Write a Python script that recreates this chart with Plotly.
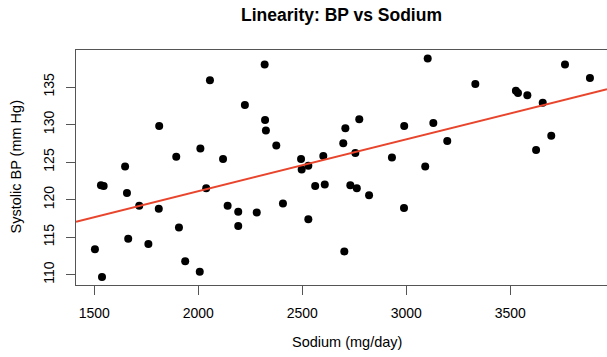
import plotly.graph_objects as go

sodium = [1532, 1545, 1648, 1812, 2056, 2224, 2010, 1894, 2119, 1657, 2038, 1716, 1810,
          2141, 2192, 2281, 1907, 2192, 1663, 1760, 1503, 1937, 2007, 1537,
          2319, 2321, 2325, 2375, 2494, 2497, 2529, 2601, 2562, 2608, 2407, 2529, 2702,
          2707, 2697, 2774, 2755, 2731, 2762, 2821, 2931, 2990, 2989, 3091, 3103, 3130, 3197,
          3332, 3527, 3537, 3582, 3656, 3624, 3697, 3763, 3883]
systolic = [121.9, 121.8, 124.4, 129.8, 135.9, 132.6, 126.8, 125.7, 125.4, 120.9, 121.5, 119.2, 118.8,
            119.2, 118.4, 118.3, 116.3, 116.5, 114.8, 114.1, 113.4, 111.8, 110.4, 109.7,
            138.0, 130.6, 129.2, 127.2, 125.4, 124.0, 124.5, 125.8, 121.8, 122.0, 119.5, 117.4, 113.1,
            129.5, 127.5, 130.7, 126.2, 121.9, 121.5, 120.6, 125.6, 129.8, 118.9, 124.4, 138.8, 130.2, 127.8,
            135.4, 134.5, 134.2, 133.9, 132.9, 126.6, 128.5, 138.0, 136.2]

fit_intercept = 107.31
fit_slope = 0.006906

x_ticks = [1500, 2000, 2500, 3000, 3500]
y_ticks = [110, 115, 120, 125, 130, 135]

x_range = [1412, 3965]
y_range = [108.63, 139.93]

font_family = "Liberation Sans, Arial, Helvetica, sans-serif"
axis_color = "#555555"

fig = go.Figure()
fig.add_trace(go.Scatter(
    x=sodium, y=systolic, mode="markers",
    marker=dict(color="black", size=8, line=dict(width=0)),
    showlegend=False, hoverinfo="x+y"))
fig.add_trace(go.Scatter(
    x=x_range, y=[fit_intercept + fit_slope * v for v in x_range], mode="lines",
    line=dict(color="#E8452C", width=2), showlegend=False, hoverinfo="skip"))

fig.update_layout(
    width=607, height=357,
    margin=dict(l=76, r=0, t=50, b=72),
    paper_bgcolor="white", plot_bgcolor="white",
    font=dict(family=font_family, color="black", size=14),
    title=dict(text="<b>Linearity: BP vs Sodium</b>", x=0.5, xref="paper", xanchor="center",
               y=1 - 15 / 357, yref="container", yanchor="middle",
               font=dict(size=17.5, family=font_family, color="black")),
    xaxis=dict(range=x_range, tickvals=x_ticks, ticktext=[str(v) for v in x_ticks],
               showgrid=False, zeroline=False, showline=True, mirror=True,
               linecolor=axis_color, linewidth=1.3, ticks="outside", ticklen=9,
               tickcolor=axis_color, tickwidth=1.3, ticklabelstandoff=6,
               tickfont=dict(size=14, family=font_family, color="black")),
    yaxis=dict(range=y_range, tickvals=y_ticks, ticktext=[str(v) for v in y_ticks],
               showgrid=False, zeroline=False, showline=True, mirror=False,
               linecolor=axis_color, linewidth=1.3, ticks="outside", ticklen=9,
               tickcolor=axis_color, tickwidth=1.3, tickangle=-90, ticklabelstandoff=6,
               tickfont=dict(size=14, family=font_family, color="black")),
    annotations=[
        dict(text="Sodium (mg/day)", xref="paper", yref="paper",
             x=(347 - 76) / 531, y=-(342 - 285) / 235, xanchor="center", yanchor="middle",
             showarrow=False, font=dict(size=14.5, family=font_family, color="black")),
        dict(text="Systolic BP (mm Hg)", xref="paper", yref="paper",
             x=-(76 - 15) / 531, y=0.5, xanchor="center", yanchor="middle", textangle=-90,
             showarrow=False, font=dict(size=14.5, family=font_family, color="black")),
    ],
)

fig.write_html("out.html")
